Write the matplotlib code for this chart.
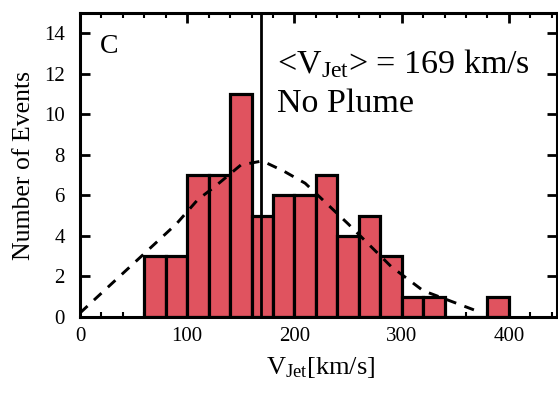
import matplotlib
matplotlib.use('Agg')
import matplotlib.pyplot as plt
from matplotlib.ticker import MultipleLocator
import numpy as np

# ── Data ─────────────────────────────────────────────────────────────────────
bin_left = [60, 80, 100, 120, 140, 160, 180, 200, 220, 240, 260, 280, 300, 320, 340, 360, 380]
counts   = [3, 3, 7, 7, 11, 5, 6, 6, 7, 4, 5, 3, 1, 1, 0, 0, 1]
bin_width = 20

# dashed envelope curve
env_x = [0, 90, 110, 125, 150, 170, 190, 210, 250, 290, 320, 370]
env_y = [0.2, 4.6, 5.8, 6.4, 7.5, 7.7, 7.2, 6.6, 4.6, 2.5, 1.3, 0.3]

mean_v = 169

plt.rcParams['font.family'] = ['Liberation Serif', 'DejaVu Serif']
plt.rcParams['mathtext.fontset'] = 'custom'
plt.rcParams['mathtext.rm'] = 'Liberation Serif'
plt.rcParams['mathtext.it'] = 'Liberation Serif:italic'

BAR_RED = '#e0535f'

fig = plt.figure(figsize=(5.58, 3.94), dpi=100)
ax = fig.add_axes([0.1434, 0.1954, 0.855, 0.7716])

ax.bar(bin_left, counts, width=bin_width, align='edge', color=BAR_RED,
       edgecolor='black', linewidth=2.3, zorder=2)

ax.plot(env_x, env_y, color='black', lw=2.1, dashes=(3.5, 3), zorder=3)
ax.axvline(mean_v, color='black', lw=2.0, zorder=4)

ax.set_xlim(0, 445)
ax.set_ylim(0, 15)
ax.xaxis.set_major_locator(MultipleLocator(100))
ax.xaxis.set_minor_locator(MultipleLocator(20))
ax.set_yticks(np.arange(0, 15, 2))

ax.tick_params(which='both', direction='in', top=True, right=True,
               width=2.0, labelsize=15)
ax.tick_params(which='major', length=7)
ax.tick_params(which='minor', length=3.5, width=1.5)
ax.tick_params(axis='x', pad=7)
ax.tick_params(axis='y', pad=11)
for sp in ax.spines.values():
    sp.set_linewidth(2.2)

ax.set_ylabel('Number of Events', fontsize=18.5)
ax.yaxis.set_label_coords(-0.095, 0.5)
ax.set_xlabel(r'V$_{\mathrm{Jet}}$[km/s]', fontsize=19)
ax.xaxis.set_label_coords(0.505, -0.125)

ax.text(0.042, 0.93, 'C', transform=ax.transAxes, fontsize=20, va='top')
ax.text(0.413, 0.803, r'<V$_{\mathrm{Jet}}$> = 169 km/s', transform=ax.transAxes,
        fontsize=24.5, va='baseline')
ax.text(0.413, 0.674, 'No Plume', transform=ax.transAxes,
        fontsize=24.5, va='baseline')

fig.savefig('out.png', dpi=100, facecolor='white')
